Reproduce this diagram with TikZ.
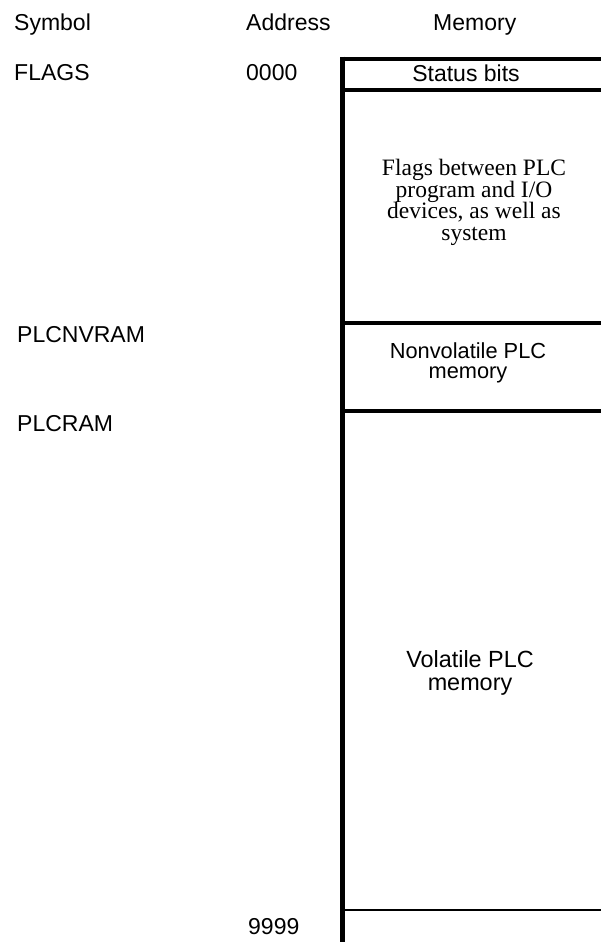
\documentclass[tikz,border=0pt]{standalone}
\usepackage{fontspec}
\setmainfont{Liberation Sans}
\newfontfamily\seriffont{Liberation Serif}
\begin{document}
\begin{tikzpicture}[x=1pt,y=-1pt,
  lbl/.style={inner sep=0pt,anchor=base west,font=\fontsize{23}{27}\selectfont},
  memtext/.style={inner sep=0pt,align=center},
  thickrule/.style={line width=4pt},
  thinrule/.style={line width=1.2pt}]
\useasboundingbox (0,0) rectangle (601,942);
% headers
\node[lbl] (hsym) at (14,30.5) {Symbol};
\node[lbl] (hadr) at (246,30.5) {Address};
\node[lbl] (hmem) at (433,30.5) {Memory};
% symbols and addresses
\node[lbl] (sflags) at (14,80.7) {FLAGS};
\node[lbl] (a0) at (246,80.7) {0000};
\node[lbl] (snv) at (17,342.3) {PLCNVRAM};
\node[lbl] (sram) at (17,431.7) {PLCRAM};
\node[lbl] (a9) at (248,934) {9999};
% memory structure
\coordinate (vtop) at (342.5,56.7);
\coordinate (vbot) at (342.5,942);
\draw[line width=5pt] (vtop) -- (vbot);
\coordinate (l1a) at (340,58.7); \coordinate (l1b) at (601,58.7);
\coordinate (l2a) at (342.5,90); \coordinate (l2b) at (601,90);
\coordinate (l3a) at (342.5,322.5); \coordinate (l3b) at (601,322.5);
\coordinate (l4a) at (342.5,410.5); \coordinate (l4b) at (601,410.5);
\coordinate (l5a) at (342.5,910); \coordinate (l5b) at (601,910);
\draw[thickrule] (l1a) -- (l1b);
\draw[thickrule] (l2a) -- (l2b);
\draw[thickrule] (l3a) -- (l3b);
\draw[thickrule] (l4a) -- (l4b);
\draw[thinrule] (l5a) -- (l5b);
% memory contents
\node[inner sep=0pt,anchor=base,font=\fontsize{23}{27}\selectfont] (status) at (466,81.7) {Status bits};
\node[memtext,font=\seriffont\fontsize{23.5}{21.7}\selectfont] (flagstxt) at (474,202.5)
  {Flags between PLC\\program and I/O\\devices, as well as\\system};
\node[memtext,font=\fontsize{21.8}{20}\selectfont] (nvtxt) at (468,363) {Nonvolatile PLC\\memory};
\node[memtext,font=\fontsize{23.4}{23}\selectfont] (vtxt) at (470,673) {Volatile PLC\\memory};
\end{tikzpicture}
\end{document}
